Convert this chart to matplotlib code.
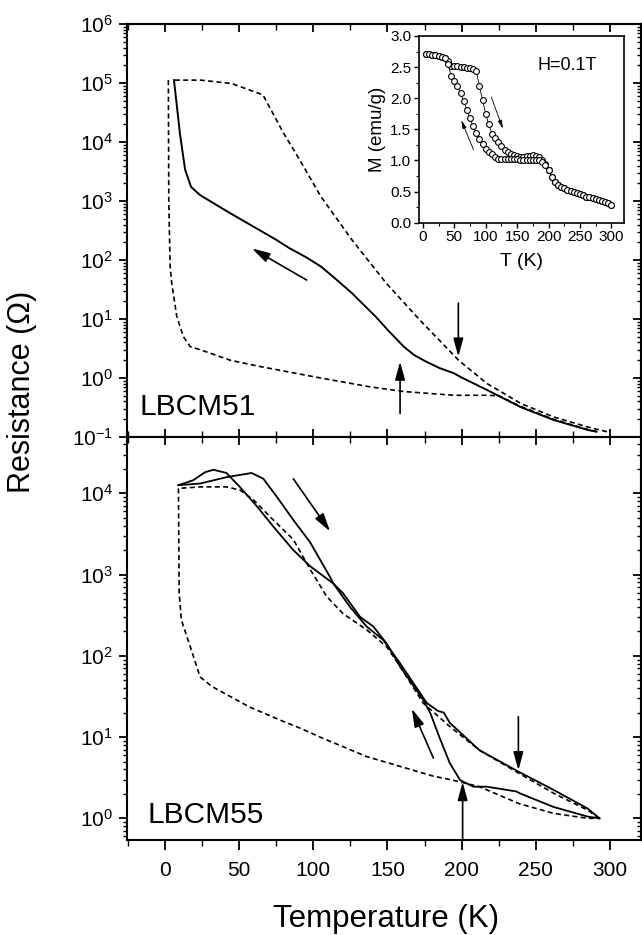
import numpy as np
import matplotlib.pyplot as plt
from matplotlib.ticker import MultipleLocator, LogLocator, NullFormatter, FormatStrFormatter

plt.rcParams['font.family'] = ['Liberation Sans', 'DejaVu Sans']
plt.rcParams['mathtext.default'] = 'regular'

# --- LBCM51 (upper panel), resistance in Ohm vs T in K ---
t51_dash_cool = [298, 285, 262, 240, 217, 198, 172, 149, 126, 105, 91, 80, 66, 45, 24, 6]
r51_dash_cool = [0.123, 0.148, 0.219, 0.37, 0.81, 2.0, 9.5, 41, 220, 1200, 4900, 14000, 63000, 98000, 112000, 112000]
t51_dash_warm = [2.2, 2.5, 3.4, 4.5, 7.9, 12.4, 17, 24, 44, 65, 105, 138, 161, 195, 217, 225, 240, 262, 285, 291]
r51_dash_warm = [112000, 1000, 78, 40, 11, 5.0, 3.4, 3.0, 2.0, 1.55, 1.0, 0.71, 0.59, 0.51, 0.51, 0.50, 0.33, 0.2, 0.134, 0.124]
t51_solid = [6, 10, 13.5, 17.5, 23.6, 44, 75, 84, 95, 105, 115, 126, 134, 142, 150, 161, 168, 176, 185,
             195, 199, 217, 240, 262, 285, 291]
r51_solid = [112000, 14000, 3400, 1740, 1260, 620, 220, 158, 112, 78, 48, 27.5, 17.4, 11, 6.6, 3.4, 2.45, 1.9, 1.48,
             1.2, 1.05, 0.63, 0.32, 0.195, 0.132, 0.123]

# --- LBCM55 (lower panel) ---
t55_cool = [293, 285, 262, 239, 237, 217, 208, 199, 192, 185, 179, 174, 158.5, 149.5, 140.5, 131.5,
            120, 113.5, 98, 86.5, 73, 62, 50.4, 41.4, 32.6, 27, 19, 9]
r55_cool = [1.0, 1.05, 1.38, 2.04, 2.14, 2.45, 2.45, 2.95, 4.8, 10, 19.5, 29, 74, 141, 229, 302,
            590, 776, 1260, 2000, 3900, 6900, 12000, 17800, 19500, 18200, 14500, 12600]
t55_warm = [9, 23.6, 41.4, 58.4, 66.3, 75.3, 86.5, 97.8, 111.3, 113.5, 124.7, 136, 147.4, 158.5,
            176.5, 184, 188, 192, 212, 239, 262, 285, 293]
r55_warm = [12600, 13200, 15800, 17800, 15100, 9100, 4700, 2500, 930, 776, 400, 229, 155, 81,
            26.3, 21, 20, 15, 6.9, 3.7, 2.24, 1.32, 1.0]
t55_dash_cool = [293, 285, 262, 239, 212, 192, 174, 158.5, 149.5, 136, 120, 109, 98, 86.5, 73, 59.6, 50.4, 41.4, 23.6, 9]
r55_dash_cool = [1.0, 1.26, 2.04, 3.55, 6.9, 13.5, 26.3, 74, 129, 209, 331, 537, 1150, 2700, 4700, 8300, 11000, 12000, 12000, 11500]
t55_dash_warm = [9, 9.5, 11, 17, 23.6, 31.5, 57, 80, 91, 104.5, 136, 181, 194, 212, 239, 262, 285, 293]
r55_dash_warm = [11500, 590, 275, 129, 55, 42, 23.4, 15.5, 12.9, 10.0, 5.75, 3.3, 2.95, 2.45, 1.51, 1.15, 1.0, 1.0]

# --- inset: magnetisation at H=0.1T ---
t_mag = list(range(5, 301, 5))
m_warm = [2.71, 2.71, 2.70, 2.69, 2.68, 2.67, 2.65, 2.60, 2.52, 2.51,
          2.51, 2.50, 2.50, 2.49, 2.48, 2.47, 2.44, 2.20, 1.97, 1.75,
          1.58, 1.43, 1.36, 1.30, 1.23, 1.17, 1.13, 1.10, 1.08, 1.07,
          1.06, 1.06, 1.07, 1.07, 1.08, 1.07, 1.05, 1.00, 0.94, 0.85,
          0.74, 0.65, 0.60, 0.57, 0.55, 0.53, 0.51, 0.50, 0.48, 0.46,
          0.44, 0.42, 0.41, 0.39, 0.38, 0.36, 0.35, 0.33, 0.31, 0.29]
m_cool = [2.71, 2.71, 2.70, 2.69, 2.68, 2.67, 2.65, 2.55, 2.36, 2.28,
          2.20, 2.08, 1.95, 1.81, 1.68, 1.55, 1.44, 1.35, 1.26, 1.19,
          1.14, 1.10, 1.06, 1.03, 1.02, 1.02, 1.02, 1.02, 1.02, 1.02,
          1.01, 1.01, 1.01, 1.01, 1.01, 1.01, 1.00, 0.98, 0.93, 0.85,
          0.74, 0.65, 0.60, 0.57, 0.55, 0.53, 0.51, 0.50, 0.48, 0.46,
          0.44, 0.42, 0.41, 0.39, 0.38, 0.36, 0.35, 0.33, 0.31, 0.29]

# arrows: (tail, head)
arrows51 = [((95.5, 45.7), (58.5, 158)), ((197.8, 18.6), (197.8, 2.3)), ((158.5, 0.25), (158.5, 1.9))]
arrows55 = [((86.5, 15100), (111.3, 3400)), ((181, 5.5), (166.4, 22.4)),
            ((238.3, 17.8), (238.3, 3.9)), ((200.7, 0.56), (200.7, 2.8))]
arrows_mag = [((108.9, 2.02), (127.4, 1.51)), ((80.7, 1.17), (61.1, 1.65))]

dash = (0, (3, 2))
big_head = '-|>,head_length=1.1,head_width=0.3'

fig = plt.figure(figsize=(6.42, 9.35), dpi=100)
ax1 = fig.add_axes([0.1978, 0.5326, 0.8006, 0.4417])
ax2 = fig.add_axes([0.1978, 0.1016, 0.8006, 0.4310])
ax1.set_zorder(2)
ax2.set_zorder(1)
ax1.patch.set_alpha(0)

for ax in (ax1, ax2):
    ax.set_yscale('log')
    ax.set_xlim(-25.7, 321)
    ax.xaxis.set_major_locator(MultipleLocator(50))
    ax.xaxis.set_minor_locator(MultipleLocator(25))
    ax.yaxis.set_major_locator(LogLocator(base=10, numticks=20))
    ax.yaxis.set_minor_locator(LogLocator(base=10, subs=np.arange(2, 10), numticks=20))
    ax.yaxis.set_minor_formatter(NullFormatter())
    for s in ax.spines.values():
        s.set_linewidth(1.5)
    ax.tick_params(axis='y', which='both', direction='out', right=False, labelsize=15, pad=4)
    ax.tick_params(axis='y', which='major', length=6, width=1.3)
    ax.tick_params(axis='y', which='minor', length=3, width=1.0)
    sec = ax.secondary_yaxis('right')
    sec.yaxis.set_major_locator(LogLocator(base=10, numticks=20))
    sec.yaxis.set_minor_locator(LogLocator(base=10, subs=np.arange(2, 10), numticks=20))
    sec.tick_params(which='both', direction='in', labelright=False)
    sec.tick_params(which='major', length=6, width=1.3)
    sec.tick_params(which='minor', length=3, width=1.0)
    sec.spines['right'].set_linewidth(1.5)

ax1.set_ylim(0.1, 1e6)
ax2.set_ylim(10 ** -0.267, 10 ** 4.693)

ax1.tick_params(axis='x', which='both', direction='inout', top=False, labelbottom=False)
ax1.tick_params(axis='x', which='major', length=12, width=1.3)
ax1.tick_params(axis='x', which='minor', length=8, width=1.0)
top = ax1.secondary_xaxis('top')
top.xaxis.set_major_locator(MultipleLocator(50))
top.xaxis.set_minor_locator(MultipleLocator(25))
top.tick_params(which='both', direction='in', labeltop=False)
top.tick_params(which='major', length=6, width=1.3)
top.tick_params(which='minor', length=4, width=1.0)
top.spines['top'].set_linewidth(1.5)

ax2.tick_params(axis='x', which='both', direction='out', top=False, labelsize=15, pad=8)
ax2.tick_params(axis='x', which='major', length=7, width=1.3)
ax2.tick_params(axis='x', which='minor', length=4, width=1.0)

# curves
ax1.plot(t51_dash_cool, r51_dash_cool, color='k', lw=1.2, ls=dash)
ax1.plot(t51_dash_warm, r51_dash_warm, color='k', lw=1.2, ls=dash)
ax1.plot(t51_solid, r51_solid, color='k', lw=1.4)

ax2.plot(t55_dash_cool, r55_dash_cool, color='k', lw=1.2, ls=dash)
ax2.plot(t55_dash_warm, r55_dash_warm, color='k', lw=1.2, ls=dash)
ax2.plot(t55_cool, r55_cool, color='k', lw=1.3)
ax2.plot(t55_warm, r55_warm, color='k', lw=1.3)

for ax, arr in ((ax1, arrows51), (ax2, arrows55)):
    for tail, head in arr:
        ax.annotate('', xy=head, xytext=tail,
                    arrowprops=dict(arrowstyle=big_head, color='k', lw=1.2, shrinkA=0, shrinkB=0))

ax1.text(0.025, 0.053, 'LBCM51', transform=ax1.transAxes, fontsize=21.5, va='baseline')
ax2.text(0.039, 0.042, 'LBCM55', transform=ax2.transAxes, fontsize=21.5, va='baseline')

fig.text(22 / 642, 1 - 392 / 935, 'Resistance (Ω)', rotation=90, ha='center', va='center', fontsize=22)
fig.text(386 / 642, 1 - 927 / 935, 'Temperature (K)', ha='center', va='baseline', fontsize=22.5)

# inset
ax3 = fig.add_axes([0.6527, 0.7618, 0.3193, 0.1997])
ax3.set_zorder(3)
ax3.plot(t_mag, m_warm, color='k', lw=0.6, marker='o', ms=4.2, mfc='white', mec='k', mew=0.8)
ax3.plot(t_mag, m_cool, color='k', lw=0.6, marker='o', ms=4.2, mfc='white', mec='k', mew=0.8)
for tail, head in arrows_mag:
    ax3.annotate('', xy=head, xytext=tail,
                 arrowprops=dict(arrowstyle='-|>,head_length=0.5,head_width=0.12', color='k', lw=0.6,
                                 shrinkA=0, shrinkB=0))
ax3.set_xlim(-6, 320)
ax3.set_ylim(0, 3.0)
ax3.xaxis.set_major_locator(MultipleLocator(50))
ax3.xaxis.set_minor_locator(MultipleLocator(25))
ax3.yaxis.set_major_locator(MultipleLocator(0.5))
ax3.yaxis.set_minor_locator(MultipleLocator(0.25))
ax3.yaxis.set_major_formatter(FormatStrFormatter('%.1f'))
ax3.tick_params(which='both', direction='out', labelsize=11, pad=2)
ax3.tick_params(which='major', length=3.5, width=1.0)
ax3.tick_params(which='minor', length=2, width=0.8)
for s in ax3.spines.values():
    s.set_linewidth(1.2)
ax3.set_xlabel('T (K)', fontsize=14, labelpad=6)
ax3.set_ylabel('M (emu/g)', fontsize=13.5, labelpad=3)
ax3.text(0.58, 0.818, 'H=0.1T', transform=ax3.transAxes, fontsize=13, va='baseline')

fig.savefig('out.png', dpi=100)
